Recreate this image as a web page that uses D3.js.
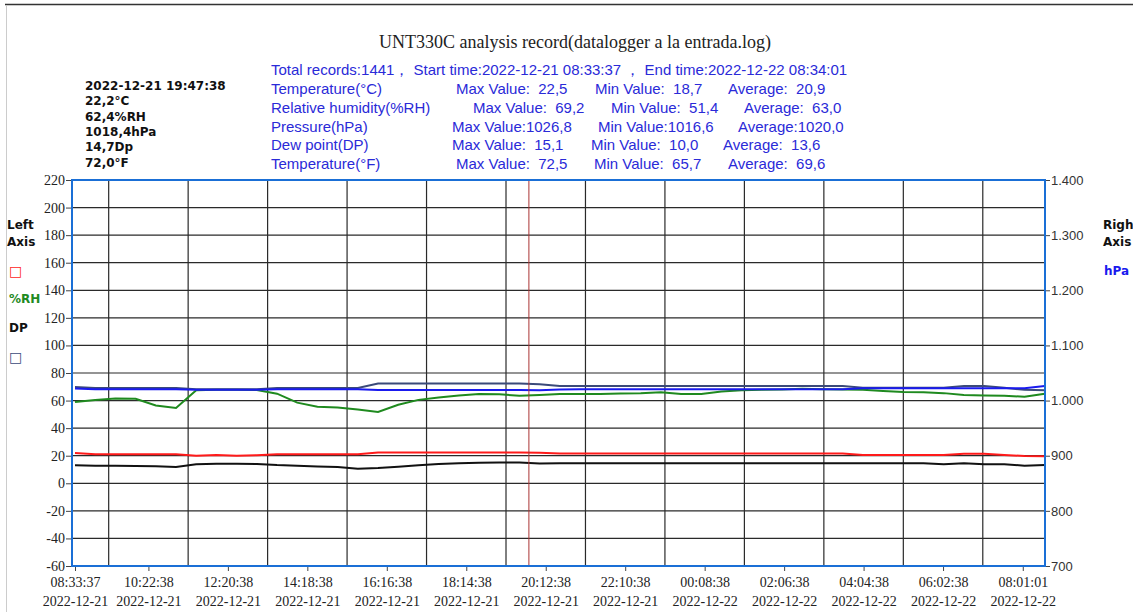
<!DOCTYPE html>
<html>
<head>
<meta charset="utf-8">
<script src="https://cdn.jsdelivr.net/npm/d3@7"></script>
<style>
body { margin: 0; background: #fff; }
svg { display: block; }
text { white-space: pre; }
</style>
</head>
<body>
<script>
// ------------------------- data -------------------------
var startTime = '2022-12-21 08:33:37';
var endTime = '2022-12-22 08:34:01';
var cursorTime = '2022-12-21 19:47:38';
var sampleStep = 30; // minutes between samples

var tempC = [22.0, 21.0, 21.0, 21.0, 21.0, 21.0, 20.0, 20.5, 20.0, 20.3,
	21.0, 21.0, 21.0, 21.0, 21.0, 22.4, 22.4, 22.4, 22.4, 22.4,
	22.4, 22.4, 22.4, 22.2, 21.6, 21.6, 21.6, 21.6, 21.6, 21.6,
	21.6, 21.6, 21.6, 21.6, 21.6, 21.6, 21.6, 21.6, 21.6, 20.6,
	20.6, 20.6, 20.6, 20.6, 21.5, 21.5, 20.6, 19.8, 19.6];
var humidity = [59.0, 60.5, 61.5, 61.3, 56.5, 54.6, 67.5, 67.8, 67.8, 67.6,
	65.0, 58.5, 55.5, 55.0, 53.5, 51.8, 57.0, 60.5, 62.3, 63.7,
	64.7, 64.5, 63.5, 64.0, 64.7, 64.7, 64.7, 65.2, 65.4, 66.0,
	64.7, 64.8, 66.5, 67.5, 67.8, 68.0, 68.5, 68.3, 68.0, 67.8,
	67.0, 66.2, 66.0, 65.4, 64.0, 63.7, 63.5, 62.8, 65.0];
var dewPoint = [13.0, 12.8, 12.8, 12.5, 12.3, 11.8, 13.8, 14.2, 14.2, 14.0,
	13.2, 12.8, 12.2, 11.8, 10.6, 11.0, 12.0, 13.0, 14.0, 14.5,
	14.9, 15.1, 15.0, 14.4, 14.6, 14.6, 14.6, 14.6, 14.6, 14.6,
	14.6, 14.6, 14.6, 14.6, 14.6, 14.6, 14.6, 14.6, 14.6, 14.6,
	14.6, 14.6, 14.6, 13.8, 14.5, 13.8, 13.8, 12.8, 13.2];
var tempF = [69.8, 69.2, 69.2, 69.2, 69.2, 69.2, 68.2, 68.2, 68.2, 68.2,
	69.2, 69.2, 69.2, 69.2, 69.2, 72.4, 72.4, 72.4, 72.4, 72.4,
	72.4, 72.4, 72.4, 71.8, 70.5, 70.5, 70.5, 70.5, 70.5, 70.5,
	70.5, 70.5, 70.5, 70.5, 70.5, 70.5, 70.5, 70.5, 70.5, 69.3,
	69.3, 69.3, 69.3, 69.3, 70.5, 70.5, 69.3, 67.8, 67.5];
var pressure = [1022.0, 1020.5, 1020.5, 1020.5, 1020.5, 1020.5, 1019.5, 1019.5, 1019.5, 1019.5,
	1020.5, 1020.5, 1020.5, 1020.5, 1020.5, 1019.2, 1019.2, 1019.2, 1019.2, 1019.2,
	1019.2, 1019.2, 1019.2, 1018.8, 1020.0, 1020.5, 1020.5, 1020.5, 1020.5, 1020.5,
	1020.5, 1020.5, 1020.5, 1020.5, 1020.5, 1020.5, 1020.5, 1020.5, 1020.5, 1022.5,
	1022.5, 1022.5, 1022.5, 1022.5, 1022.5, 1022.5, 1022.5, 1022.5, 1026.5];

var tickTimes = ['2022-12-21 08:33:37', '2022-12-21 10:22:38', '2022-12-21 12:20:38',
	'2022-12-21 14:18:38', '2022-12-21 16:16:38', '2022-12-21 18:14:38', '2022-12-21 20:12:38',
	'2022-12-21 22:10:38', '2022-12-22 00:08:38', '2022-12-22 02:06:38', '2022-12-22 04:04:38',
	'2022-12-22 06:02:38', '2022-12-22 08:01:01'];
var gridTimes = ['2022-12-21 09:23:38', '2022-12-21 11:21:38', '2022-12-21 13:19:38',
	'2022-12-21 15:17:38', '2022-12-21 17:15:38', '2022-12-21 19:13:38', '2022-12-21 21:11:38',
	'2022-12-21 23:09:38', '2022-12-22 01:07:38', '2022-12-22 03:05:38', '2022-12-22 05:03:38',
	'2022-12-22 07:01:38'];
var leftTicks = [-60, -40, -20, 0, 20, 40, 60, 80, 100, 120, 140, 160, 180, 200, 220];
var rightTicks = [700, 800, 900, 1000, 1100, 1200, 1300, 1400];

var title = 'UNT330C analysis record(datalogger a la entrada.log)';
var summary = 'Total records:1441\uff0c Start time:2022-12-21 08:33:37 \uff0c End time:2022-12-22 08:34:01';
var readout = ['2022-12-21 19:47:38', '22,2\u00b0C', '62,4%RH', '1018,4hPa', '14,7Dp', '72,0\u00b0F'];
var statNames = ['Temperature(\u00b0C)', 'Relative humidity(%RH)', 'Pressure(hPa)', 'Dew point(DP)', 'Temperature(\u00b0F)'];
var statMax = ['22,5', '69,2', '1026,8', '15,1', '72,5'];
var statMin = ['18,7', '51,4', '1016,6', '10,0', '65,7'];
var statAvg = ['20,9', '63,0', '1020,0', '13,6', '69,6'];

// ------------------------- layout -------------------------
var W = 1133, H = 612;
var plot = { left: 72, right: 1045, top: 180, bottom: 566 };
var statX = [[456, 595, 728], [473, 611, 744], [452, 598, 738], [452, 591, 723], [456, 594, 728]];

var parse = d3.timeParse('%Y-%m-%d %H:%M:%S');
var t0 = parse(startTime);

var svg = d3.select('body').append('svg').attr('width', W).attr('height', H);

// page frame
svg.append('line').attr('x1', 5).attr('x2', W).attr('y1', 4.5).attr('y2', 4.5)
	.attr('stroke', '#333').attr('stroke-width', 1.5);
svg.append('line').attr('x1', 6.5).attr('x2', 6.5).attr('y1', 5).attr('y2', H)
	.attr('stroke', '#ccc').attr('stroke-width', 1);

var x = d3.scaleTime().domain([t0, parse(endTime)]).range([75, plot.right]);
var yLeft = d3.scaleLinear().domain([-60, 220]).range([plot.bottom, plot.top]);
var yRight = d3.scaleLinear().domain([700, 1400]).range([plot.bottom, plot.top]);

var euro = d3.formatLocale({ decimal: ',', thousands: '.', grouping: [3], currency: ['', ''], minus: '-' });

// grid
svg.append('g').selectAll('line').data(leftTicks.slice(1, -1)).enter().append('line')
	.attr('x1', plot.left).attr('x2', plot.right)
	.attr('y1', function(d) { return yLeft(d); }).attr('y2', function(d) { return yLeft(d); })
	.attr('stroke', '#2a2a2a').attr('stroke-width', 1.2);
svg.append('g').selectAll('line').data(gridTimes).enter().append('line')
	.attr('x1', function(d) { return x(parse(d)); }).attr('x2', function(d) { return x(parse(d)); })
	.attr('y1', plot.top).attr('y2', plot.bottom)
	.attr('stroke', '#2a2a2a').attr('stroke-width', 1.2);

// axes
var leftAxis = svg.append('g').attr('transform', 'translate(' + plot.left + ',0)')
	.call(d3.axisLeft(yLeft).tickValues(leftTicks).tickSize(6).tickPadding(1).tickFormat(euro.format('d')));
leftAxis.select('.domain').remove();
leftAxis.selectAll('text').attr('font-family', 'Liberation Serif').attr('font-size', 14).attr('fill', '#222');
leftAxis.selectAll('line').attr('stroke', '#444');

var rightAxis = svg.append('g').attr('transform', 'translate(' + plot.right + ',0)')
	.call(d3.axisRight(yRight).tickValues(rightTicks).tickSize(5).tickPadding(1).tickFormat(euro.format(',')));
rightAxis.select('.domain').remove();
rightAxis.selectAll('text').attr('font-family', 'Liberation Sans').attr('font-size', 13).attr('fill', '#333');
rightAxis.selectAll('line').attr('stroke', '#444');

var bottomAxis = svg.append('g').attr('transform', 'translate(0,' + plot.bottom + ')')
	.call(d3.axisBottom(x).tickValues(tickTimes.map(parse)).tickSize(5).tickFormat(''));
bottomAxis.select('.domain').remove();
bottomAxis.selectAll('line').attr('stroke', '#444');
bottomAxis.selectAll('.tick').each(function(d) {
	var t = d3.select(this).append('text').attr('font-family', 'Liberation Serif').attr('font-size', 14)
		.attr('fill', '#222').attr('text-anchor', 'middle');
	t.append('tspan').attr('x', 0).attr('y', 21).text(d3.timeFormat('%H:%M:%S')(d));
	t.append('tspan').attr('x', 0).attr('y', 40).text(d3.timeFormat('%Y-%m-%d')(d));
});

// series
function points(values) {
	return values.map(function(v, i) {
		return { t: d3.timeMinute.offset(t0, i * sampleStep), v: v };
	});
}

function drawLine(values, scale, color) {
	var line = d3.line()
		.x(function(d) { return x(d.t); })
		.y(function(d) { return scale(d.v); });
	svg.append('path').datum(points(values)).attr('d', line)
		.attr('fill', 'none').attr('stroke', color).attr('stroke-width', 2);
}

drawLine(tempC, yLeft, '#ff1a1a');
drawLine(humidity, yLeft, '#1f8a1f');
drawLine(dewPoint, yLeft, '#111');
drawLine(tempF, yLeft, '#3b4a7a');
drawLine(pressure, yRight, '#1a1aee');

// cursor
var cx = x(parse(cursorTime));
svg.append('line').attr('x1', cx).attr('x2', cx).attr('y1', plot.top).attr('y2', plot.bottom)
	.attr('stroke', '#a33').attr('stroke-width', 1);

// plot frame
svg.append('rect').attr('x', plot.left).attr('y', plot.top)
	.attr('width', plot.right - plot.left).attr('height', plot.bottom - plot.top)
	.attr('fill', 'none').attr('stroke', '#1a6fd6').attr('stroke-width', 2);

// title + summary
svg.append('text').attr('x', 575).attr('y', 48).attr('text-anchor', 'middle')
	.attr('font-family', 'Liberation Serif').attr('font-size', 18).attr('fill', '#222').text(title);

var info = svg.append('g').attr('font-family', 'Liberation Sans').attr('font-size', 15).attr('fill', '#2a2ad8');
info.append('text').attr('x', 271).attr('y', 75).text(summary);
statNames.forEach(function(name, i) {
	var y = 94 + i * 18.8;
	info.append('text').attr('x', 271).attr('y', y).text(name);
	info.append('text').attr('x', statX[i][0]).attr('y', y).text('Max Value:' + statMax[i].padStart(6, ' '));
	info.append('text').attr('x', statX[i][1]).attr('y', y).text('Min Value:' + statMin[i].padStart(6, ' '));
	info.append('text').attr('x', statX[i][2]).attr('y', y).text('Average:' + statAvg[i].padStart(6, ' '));
});

// cursor readout
svg.append('g').selectAll('text').data(readout).enter().append('text')
	.attr('x', 85).attr('y', function(d, i) { return 90 + i * 15.3; })
	.attr('font-family', 'DejaVu Sans').attr('font-weight', 'bold').attr('font-size', 12)
	.attr('fill', '#111').text(function(d) { return d; });

// axis legends
var legend = svg.append('g').attr('font-family', 'DejaVu Sans').attr('font-weight', 'bold').attr('font-size', 12);
legend.append('text').attr('x', 7).attr('y', 229).attr('fill', '#111').text('Left');
legend.append('text').attr('x', 7).attr('y', 246).attr('fill', '#111').text('Axis');
legend.append('text').attr('x', 9).attr('y', 276).attr('fill', '#ff1a1a').attr('font-size', 14).attr('font-weight', 'normal').text('\u25a1');
legend.append('text').attr('x', 9).attr('y', 303).attr('fill', '#1f8a1f').text('%RH');
legend.append('text').attr('x', 9).attr('y', 332).attr('fill', '#111').text('DP');
legend.append('text').attr('x', 9).attr('y', 362).attr('fill', '#3b4a7a').attr('font-size', 14).attr('font-weight', 'normal').text('\u25a1');
legend.append('text').attr('x', 1103).attr('y', 229).attr('fill', '#111').text('Right');
legend.append('text').attr('x', 1103).attr('y', 246).attr('fill', '#111').text('Axis');
legend.append('text').attr('x', 1104).attr('y', 275).attr('fill', '#1a1aee').text('hPa');
</script>
</body>
</html>
